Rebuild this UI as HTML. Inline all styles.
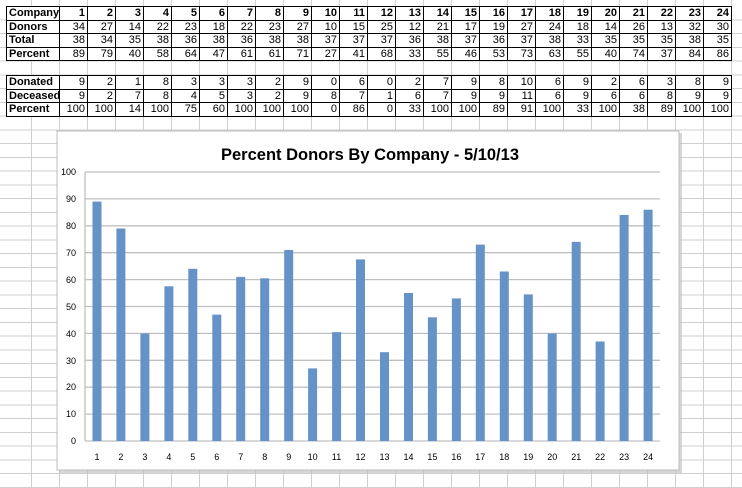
<!DOCTYPE html>
<html><head><meta charset="utf-8"><style>
body{margin:0;width:742px;height:488px;overflow:hidden;background:#fff;position:relative;font-family:"Liberation Sans",Arial,sans-serif}
.grid{position:absolute;left:0;top:0;width:742px;height:488px;
background-image:repeating-linear-gradient(to right,transparent 0 27px,#cfcfcf 27px 28px),repeating-linear-gradient(to bottom,transparent 0 12.75px,#cfcfcf 12.75px 13.75px);
background-position:4px 0,0 6.5px}
table{position:absolute;left:6px;width:725px;border-collapse:collapse;background:#fff;font-size:11px;table-layout:fixed}
td{border:1px solid #000;height:12.6px;padding:0 2px;text-align:right;line-height:12px;overflow:hidden;white-space:nowrap}
td.l{text-align:left;font-weight:bold}
tr.h td{font-weight:bold}
</style></head><body>
<div class="grid"></div>
<table style="top:6px">
<colgroup><col style="width:53px"><col span="24" style="width:28px"></colgroup>
<tr class="h"><td class="l">Company</td><td>1</td><td>2</td><td>3</td><td>4</td><td>5</td><td>6</td><td>7</td><td>8</td><td>9</td><td>10</td><td>11</td><td>12</td><td>13</td><td>14</td><td>15</td><td>16</td><td>17</td><td>18</td><td>19</td><td>20</td><td>21</td><td>22</td><td>23</td><td>24</td></tr>
<tr><td class="l">Donors</td><td>34</td><td>27</td><td>14</td><td>22</td><td>23</td><td>18</td><td>22</td><td>23</td><td>27</td><td>10</td><td>15</td><td>25</td><td>12</td><td>21</td><td>17</td><td>19</td><td>27</td><td>24</td><td>18</td><td>14</td><td>26</td><td>13</td><td>32</td><td>30</td></tr>
<tr><td class="l">Total</td><td>38</td><td>34</td><td>35</td><td>38</td><td>36</td><td>38</td><td>36</td><td>38</td><td>38</td><td>37</td><td>37</td><td>37</td><td>36</td><td>38</td><td>37</td><td>36</td><td>37</td><td>38</td><td>33</td><td>35</td><td>35</td><td>35</td><td>38</td><td>35</td></tr>
<tr><td class="l">Percent</td><td>89</td><td>79</td><td>40</td><td>58</td><td>64</td><td>47</td><td>61</td><td>61</td><td>71</td><td>27</td><td>41</td><td>68</td><td>33</td><td>55</td><td>46</td><td>53</td><td>73</td><td>63</td><td>55</td><td>40</td><td>74</td><td>37</td><td>84</td><td>86</td></tr>
</table>
<table style="top:75px">
<colgroup><col style="width:53px"><col span="24" style="width:28px"></colgroup>
<tr><td class="l">Donated</td><td>9</td><td>2</td><td>1</td><td>8</td><td>3</td><td>3</td><td>3</td><td>2</td><td>9</td><td>0</td><td>6</td><td>0</td><td>2</td><td>7</td><td>9</td><td>8</td><td>10</td><td>6</td><td>9</td><td>2</td><td>6</td><td>3</td><td>8</td><td>9</td></tr>
<tr><td class="l">Deceased</td><td>9</td><td>2</td><td>7</td><td>8</td><td>4</td><td>5</td><td>3</td><td>2</td><td>9</td><td>8</td><td>7</td><td>1</td><td>6</td><td>7</td><td>9</td><td>9</td><td>11</td><td>6</td><td>9</td><td>6</td><td>6</td><td>8</td><td>9</td><td>9</td></tr>
<tr><td class="l">Percent</td><td>100</td><td>100</td><td>14</td><td>100</td><td>75</td><td>60</td><td>100</td><td>100</td><td>100</td><td>0</td><td>86</td><td>0</td><td>33</td><td>100</td><td>100</td><td>89</td><td>91</td><td>100</td><td>33</td><td>100</td><td>38</td><td>89</td><td>100</td><td>100</td></tr>
</table>
<svg style="position:absolute;left:0;top:0" width="742" height="488" font-family="Liberation Sans,Arial,sans-serif">
<rect x="59" y="133" width="623" height="340" fill="#bbb" opacity="0.6"/>
<rect x="57" y="131" width="622" height="339" fill="#fff" stroke="#bdbdbd"/>
<text x="370" y="160" text-anchor="middle" font-size="16.5" font-weight="bold">Percent Donors By Company - 5/10/13</text>
<g stroke="#c0c0c0" stroke-width="1.3">
<line x1="85" x2="660" y1="172" y2="172"/><line x1="85" x2="660" y1="198.9" y2="198.9"/><line x1="85" x2="660" y1="225.8" y2="225.8"/><line x1="85" x2="660" y1="252.7" y2="252.7"/><line x1="85" x2="660" y1="279.6" y2="279.6"/><line x1="85" x2="660" y1="306.5" y2="306.5"/><line x1="85" x2="660" y1="333.4" y2="333.4"/><line x1="85" x2="660" y1="360.3" y2="360.3"/><line x1="85" x2="660" y1="387.2" y2="387.2"/><line x1="85" x2="660" y1="414.1" y2="414.1"/><line x1="85" x2="660" y1="441" y2="441"/>
<line x1="85" x2="85" y1="172" y2="441"/>
</g>
<g font-size="9" text-anchor="end" fill="#000">
<text x="76" y="175">100</text><text x="76" y="202">90</text><text x="76" y="229">80</text><text x="76" y="256">70</text><text x="76" y="283">60</text><text x="76" y="310">50</text><text x="76" y="337">40</text><text x="76" y="364">30</text><text x="76" y="390">20</text><text x="76" y="417">10</text><text x="76" y="444">0</text>
</g>
<g fill="#6593c7">
<rect x="92.5" y="201.6" width="9" height="239.4"/><rect x="116.4" y="228.5" width="9" height="212.5"/><rect x="140.4" y="333.4" width="9" height="107.6"/><rect x="164.4" y="286.3" width="9" height="154.7"/><rect x="188.3" y="268.8" width="9" height="172.2"/><rect x="212.3" y="314.6" width="9" height="126.4"/><rect x="236.2" y="276.9" width="9" height="164.1"/><rect x="260.2" y="278.3" width="9" height="162.7"/><rect x="284.2" y="250" width="9" height="191"/><rect x="308.1" y="368.4" width="9" height="72.6"/><rect x="332.1" y="332.1" width="9" height="108.9"/><rect x="356" y="259.4" width="9" height="181.6"/><rect x="380" y="352.2" width="9" height="88.8"/><rect x="404" y="293" width="9" height="148"/><rect x="427.9" y="317.3" width="9" height="123.7"/><rect x="451.9" y="298.4" width="9" height="142.6"/><rect x="475.8" y="244.6" width="9" height="196.4"/><rect x="499.8" y="271.5" width="9" height="169.5"/><rect x="523.8" y="294.4" width="9" height="146.6"/><rect x="547.7" y="333.4" width="9" height="107.6"/><rect x="571.7" y="241.9" width="9" height="199.1"/><rect x="595.6" y="341.5" width="9" height="99.5"/><rect x="619.6" y="215" width="9" height="226"/><rect x="643.6" y="209.7" width="9" height="231.3"/>
</g>
<g font-size="9" text-anchor="middle" fill="#000">
<text x="97" y="460">1</text><text x="120.9" y="460">2</text><text x="144.9" y="460">3</text><text x="168.9" y="460">4</text><text x="192.8" y="460">5</text><text x="216.8" y="460">6</text><text x="240.7" y="460">7</text><text x="264.7" y="460">8</text><text x="288.7" y="460">9</text><text x="312.6" y="460">10</text><text x="336.6" y="460">11</text><text x="360.5" y="460">12</text><text x="384.5" y="460">13</text><text x="408.5" y="460">14</text><text x="432.4" y="460">15</text><text x="456.4" y="460">16</text><text x="480.3" y="460">17</text><text x="504.3" y="460">18</text><text x="528.3" y="460">19</text><text x="552.2" y="460">20</text><text x="576.2" y="460">21</text><text x="600.1" y="460">22</text><text x="624.1" y="460">23</text><text x="648.1" y="460">24</text>
</g>
</svg>
</body></html>
